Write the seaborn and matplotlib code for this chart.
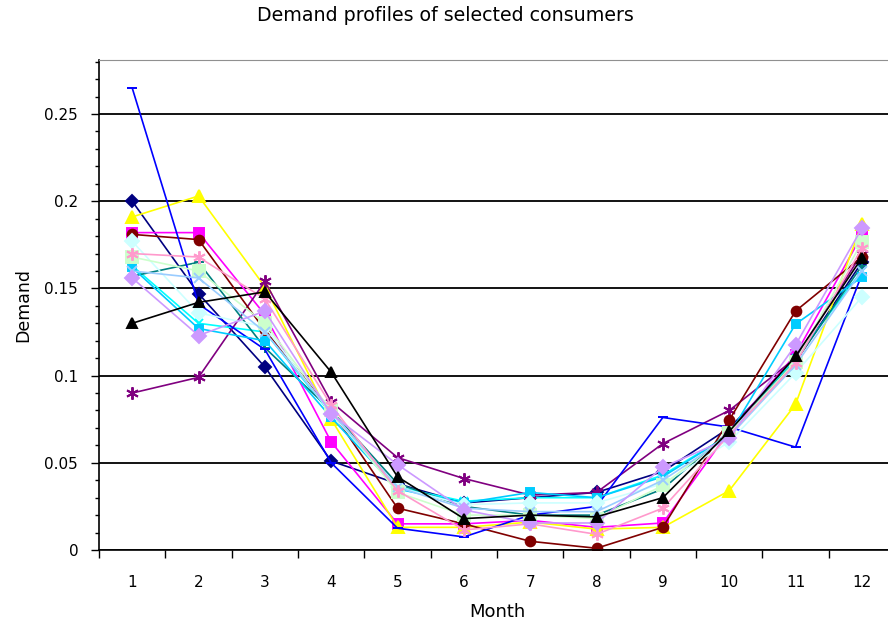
import matplotlib
matplotlib.use("Agg")
import matplotlib.pyplot as plt
from matplotlib.ticker import MultipleLocator, FixedLocator
import seaborn as sns
import pandas as pd

sns.set_style("ticks")
plt.rcParams['font.family'] = ['DejaVu Sans']
plt.rcParams['text.color'] = 'black'
plt.rcParams['axes.labelcolor'] = 'black'
plt.rcParams['xtick.color'] = 'black'
plt.rcParams['ytick.color'] = 'black'

months = list(range(1, 13))

# demand per consumer, one value per month
navy = [0.200, 0.147, 0.105, 0.051, 0.038, 0.027, 0.030, 0.033, 0.045, 0.070, 0.108, 0.165]
magenta = [0.182, 0.182, 0.135, 0.062, 0.015, 0.015, 0.017, 0.013, 0.0155, 0.068, 0.112, 0.1805]
yellow = [0.191, 0.203, 0.151, 0.075, 0.013, 0.013, 0.016, 0.012, 0.013, 0.034, 0.0835, 0.187]
cyan = [0.163, 0.130, 0.125, 0.078, 0.036, 0.028, 0.030, 0.030, 0.043, 0.066, 0.110, 0.160]
purple = [0.090, 0.099, 0.154, 0.085, 0.053, 0.041, 0.0315, 0.033, 0.061, 0.080, 0.110, 0.170]
darkred = [0.181, 0.178, 0.126, 0.080, 0.024, 0.015, 0.005, 0.001, 0.013, 0.0745, 0.137, 0.168]
teal = [0.157, 0.165, 0.116, 0.080, 0.038, 0.025, 0.020, 0.020, 0.035, 0.068, 0.108, 0.163]
blue = [0.265, 0.141, 0.115, 0.050, 0.0125, 0.0075, 0.020, 0.025, 0.076, 0.0705, 0.059, 0.158]
skyblue = [0.162, 0.127, 0.120, 0.076, 0.035, 0.027, 0.033, 0.030, 0.042, 0.066, 0.1295, 0.1565]
lightcyan = [0.177, 0.136, 0.128, 0.078, 0.036, 0.026, 0.027, 0.027, 0.038, 0.062, 0.1015, 0.145]
lightgreen = [0.168, 0.160, 0.130, 0.080, 0.033, 0.020, 0.020, 0.018, 0.037, 0.067, 0.108, 0.1765]
lightblue = [0.160, 0.156, 0.125, 0.079, 0.036, 0.024, 0.022, 0.022, 0.040, 0.065, 0.106, 0.160]
pink = [0.170, 0.168, 0.144, 0.083, 0.034, 0.0115, 0.015, 0.009, 0.024, 0.066, 0.107, 0.173]
lavender = [0.156, 0.123, 0.137, 0.078, 0.049, 0.023, 0.0155, 0.0155, 0.0475, 0.064, 0.1175, 0.1845]
black = [0.130, 0.142, 0.148, 0.102, 0.042, 0.018, 0.020, 0.019, 0.030, 0.068, 0.111, 0.1675]

series = [
    ("c1", navy, "#000080", "D", 6),
    ("c2", magenta, "#FF00FF", "s", 7),
    ("c3", yellow, "#FFFF00", "^", 8),
    ("c4", cyan, "#00FFFF", "x", 6),
    ("c5", purple, "#800080", (6, 2, 0), 9),
    ("c6", darkred, "#800000", "o", 7),
    ("c7", teal, "#008080", "+", 7),
    ("c8", blue, "#0000FF", "_", 7),
    ("c9", skyblue, "#00CCFF", "s", 6),
    ("c10", lightcyan, "#CCFFFF", "D", 7),
    ("c11", lightgreen, "#CCFFCC", "s", 8),
    ("c12", lightblue, "#99CCFF", "x", 7),
    ("c13", pink, "#FF99CC", (6, 2, 0), 9),
    ("c14", lavender, "#CC99FF", "D", 7),
    ("c15", black, "#000000", "^", 7),
]

rows = []
for name, vals, _, _, _ in series:
    for m, v in zip(months, vals):
        rows.append({"consumer": name, "Month": m, "Demand": v})
df = pd.DataFrame(rows)

fig = plt.figure(figsize=(8.88, 6.28), dpi=100)
ax = fig.add_axes([0.1115, 0.1242, 0.8964, 0.7803])

for name, _, color, marker, ms in series:
    sns.lineplot(data=df[df["consumer"] == name], x="Month", y="Demand",
                 color=color, marker=marker, markersize=ms,
                 markeredgecolor=color, markerfacecolor=color,
                 markeredgewidth=1.4, linewidth=1.2, ax=ax, legend=False)

ax.set_xlim(0.5, 12.5)
ax.set_ylim(0, 0.281)
ax.set_xticks(months)
ax.set_xticklabels([str(m) for m in months])
ax.xaxis.set_minor_locator(FixedLocator([m + 0.5 for m in range(0, 13)]))
ax.tick_params(axis="x", which="major", length=0, pad=18, labelsize=11)
ax.tick_params(axis="x", which="minor", length=6, width=1, direction="out")
ax.yaxis.set_major_locator(MultipleLocator(0.05))
ax.yaxis.set_minor_locator(MultipleLocator(0.01))
ax.set_yticks([0, 0.05, 0.1, 0.15, 0.2, 0.25])
ax.set_yticklabels(["0", "0.05", "0.1", "0.15", "0.2", "0.25"])
ax.tick_params(axis="y", which="major", length=6, width=1, direction="out", labelsize=11, pad=9)
ax.tick_params(axis="y", which="minor", length=3, width=1, direction="out")

ax.grid(axis="y", which="major", color="black", linewidth=1.3)
ax.set_axisbelow(True)
for side in ["left", "bottom"]:
    ax.spines[side].set_color("black")
    ax.spines[side].set_linewidth(1.2)
ax.spines["top"].set_visible(True)
ax.spines["top"].set_color("#909090")
ax.spines["right"].set_visible(False)

ax.set_xlabel("Month", fontsize=13, labelpad=9)
ax.set_ylabel("Demand", fontsize=12.5, labelpad=9)
fig.text(0.501, 0.975, "Demand profiles of selected consumers", ha="center", va="center", fontsize=13.7)

fig.savefig("out.png", dpi=100)
